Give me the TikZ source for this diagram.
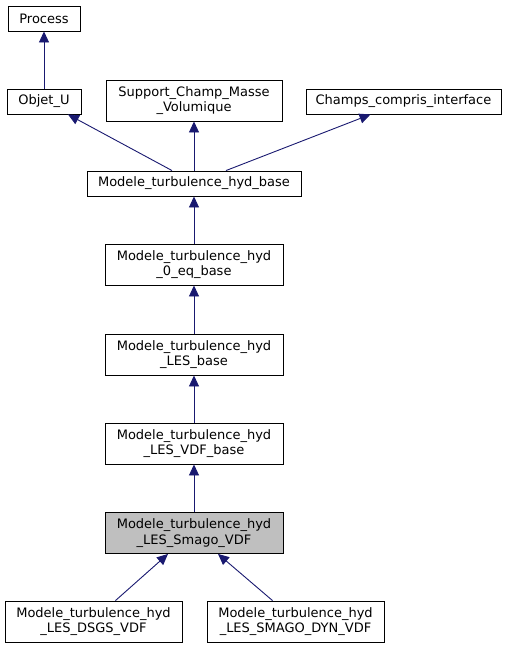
\documentclass[tikz,border=0pt]{standalone}
\usepackage{fontspec}
\setmainfont{DejaVu Sans}
\usetikzlibrary{arrows.meta,calc}
\definecolor{edgecol}{HTML}{191970}
\definecolor{boxline}{HTML}{000000}
\tikzset{
  cls/.style={draw=boxline, line width=0.9pt, fill=white, inner sep=0pt, align=center,
    font=\fontsize{13}{15.5}\selectfont},
  cur/.style={cls, fill=black!25},
  inh/.style={draw=edgecol, line width=0.9pt, -{Triangle[length=11pt,width=10pt]}},
}
\begin{document}
\begin{tikzpicture}[x=1pt,y=-1pt]
\useasboundingbox (0,0) rectangle (509,648);
\node[cls, minimum width=72pt, minimum height=25pt] (process) at (44,18.5) {Process};
\node[cls, minimum width=74pt, minimum height=25pt] (objet) at (44,101.5) {Objet\_U};
\node[cls, minimum width=176pt, minimum height=41pt] (support) at (194,100.5) {Support\_Champ\_Masse\\\_Volumique};
\node[cls, minimum width=195pt, minimum height=25pt] (champs) at (403.5,101.5) {Champs\_compris\_interface};
\node[cls, minimum width=214pt, minimum height=25pt] (hyd) at (194,183.5) {Modele\_turbulence\_hyd\_base};
\node[cls, minimum width=178pt, minimum height=41pt] (zeroeq) at (194,264.5) {Modele\_turbulence\_hyd\\\_0\_eq\_base};
\node[cls, minimum width=178pt, minimum height=41pt] (les) at (194,354.5) {Modele\_turbulence\_hyd\\\_LES\_base};
\node[cls, minimum width=178pt, minimum height=41pt] (vdf) at (194,443.5) {Modele\_turbulence\_hyd\\\_LES\_VDF\_base};
\node[cur, minimum width=178pt, minimum height=41pt] (smago) at (194,533) {Modele\_turbulence\_hyd\\\_LES\_Smago\_VDF};
\node[cls, minimum width=177pt, minimum height=41pt] (dsgs) at (93.5,621.5) {Modele\_turbulence\_hyd\\\_LES\_DSGS\_VDF};
\node[cls, minimum width=177pt, minimum height=41pt] (dyn) at (295.5,621.5) {Modele\_turbulence\_hyd\\\_LES\_SMAGO\_DYN\_VDF};

\draw[inh] (objet.north) -- (process.south);
\draw[inh] ($(hyd.north)+(-22,0)$) -- ($(objet.south)+(24,0)$);
\draw[inh] (hyd.north) -- (support.south);
\draw[inh] ($(hyd.north)+(32,0)$) -- ($(champs.south)+(-33,0)$);
\draw[inh] (zeroeq.north) -- (hyd.south);
\draw[inh] (les.north) -- (zeroeq.south);
\draw[inh] (vdf.north) -- (les.south);
\draw[inh] (smago.north) -- (vdf.south);
\draw[inh] ($(dsgs.north)+(22,0)$) -- ($(smago.south)+(-26,0)$);
\draw[inh] ($(dyn.north)+(-23,0)$) -- ($(smago.south)+(24,0)$);
\end{tikzpicture}
\end{document}
